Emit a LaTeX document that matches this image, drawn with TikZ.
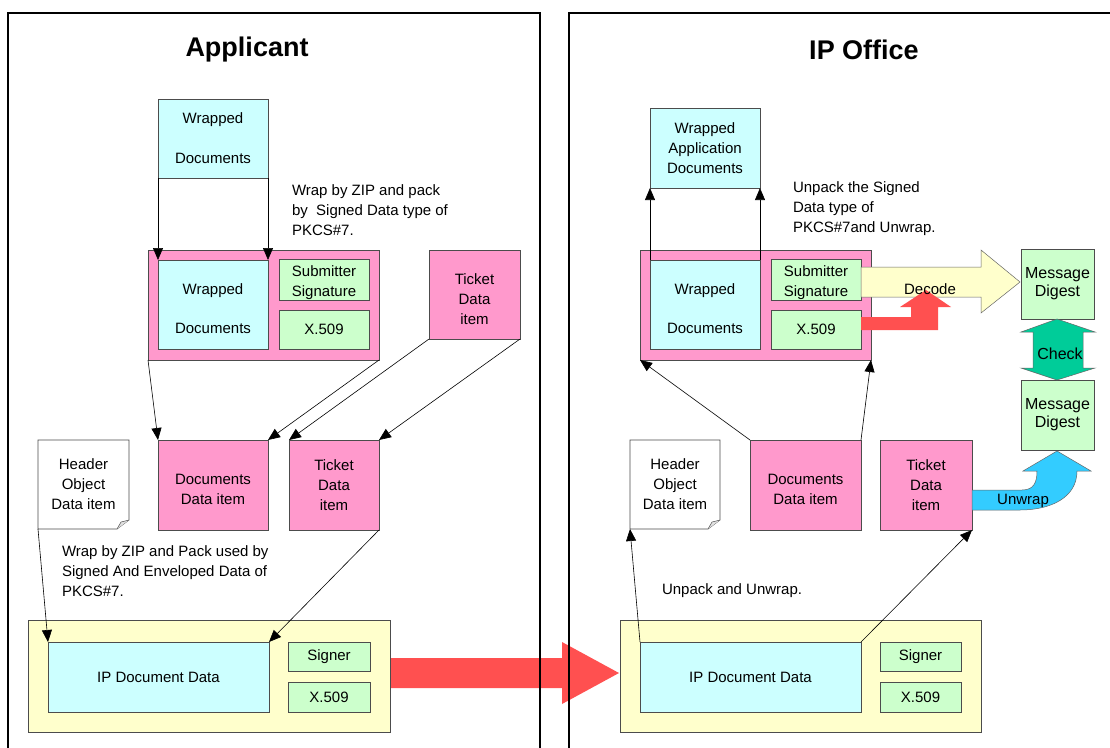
\documentclass[tikz,border=0pt]{standalone}
\usepackage{fontspec}
\setmainfont{Liberation Sans}
\usetikzlibrary{arrows.meta,calc}
\definecolor{DocCyan}{HTML}{CCFFFF}
\definecolor{ItemPink}{HTML}{FF99CC}
\definecolor{CertGreen}{HTML}{CCFFCC}
\definecolor{EnvYellow}{HTML}{FFFFCC}
\definecolor{SendRed}{HTML}{FF5050}
\definecolor{CheckGreen}{HTML}{00CC99}
\definecolor{UnwrapBlue}{HTML}{33CCFF}
\newcommand{\boxfont}{\fontsize{15}{20}\selectfont}
\newcommand{\digestfont}{\fontsize{16}{18}\selectfont}
\newcommand{\titlefont}{\fontsize{27}{32}\selectfont\bfseries}

\begin{document}
\begin{tikzpicture}[x=1pt,y=-1pt,
  every node/.style={inner sep=0pt,outer sep=0pt,align=center,font=\boxfont},
  item/.style 2 args={draw=black!70,line width=0.6pt,minimum width=#1,minimum height=#2},
  doc/.style 2 args={item={#1}{#2},fill=DocCyan},
  pack/.style 2 args={item={#1}{#2},fill=ItemPink},
  cert/.style 2 args={item={#1}{#2},fill=CertGreen},
  env/.style 2 args={item={#1}{#2},fill=EnvYellow},
  panel/.style={draw=black,line width=1.4pt},
  arr/.style={-{Triangle[length=12pt,width=10pt]},line width=0.6pt},
  blk/.style={draw=black!60,line width=0.5pt}]
  \useasboundingbox (0,0) rectangle (1110,747);
  \fill[white] (0,0) rectangle (1110,747);

  % sending arrow, under the panel frames
  \fill[SendRed] (390,658) -- (562,658) -- (562,642) -- (619,673) -- (562,704) -- (562,688) -- (390,688) -- cycle;

  \draw[panel] (8,13) rectangle (540,760);
  \draw[panel] (569,13) rectangle (1125,760);
  \node[font=\titlefont] (ttlL) at (247,50) {Applicant};
  \node[font=\titlefont] (ttlR) at (864,50) {IP Office};

  % Applicant side
  \node[doc={110}{79}] (wdL) at (213,138.5) {Wrapped\\[20pt]Documents};
  \node[pack={231}{110}] (sdL) at (263.5,305) {};
  \node[doc={110}{89}] (wdinL) at (213,304.5) {\mbox{}\\[-1pt]Wrapped\\[19pt]Documents};
  \node[cert={90}{39}] (sigL) at (324,279.5) {\mbox{}\\[-2pt]Submitter\\Signature};
  \node[cert={90}{39}] (xcL) at (324,329.5) {X.509};
  \node[pack={91}{89}] (tkL) at (474.5,294.5) {\mbox{}\\[1pt]Ticket\\Data\\item};
  \node[minimum width=91,minimum height=89] (hdL) at (83.5,484.5) {Header\\Object\\Data item};
  \node[pack={110}{90}] (ddL) at (213,485) {\mbox{}\\Documents\\Data item};
  \node[pack={90}{90}] (tdL) at (334,485) {Ticket\\Data\\item};
  \node[env={362}{112}] (envL) at (209,676) {};
  \node[doc={221}{70}] (ipL) at (158.5,677) {IP Document Data};
  \node[cert={82}{29}] (sgL) at (329,656.5) {Signer};
  \node[cert={82}{30}] (xbL) at (329,697) {X.509};
  \node[anchor=west,align=left] (txL1) at (292,210) {Wrap by ZIP and pack\\by\ \ Signed Data type of\\PKCS\#7.};
  \node[anchor=west,align=left] (txL2) at (62,571) {Wrap by ZIP and Pack used by\\Signed And Enveloped Data of\\PKCS\#7.};

  % IP Office side
  \node[doc={110}{80}] (wdR) at (705,148) {Wrapped\\Application\\Documents};
  \node[pack={231}{110}] (sdR) at (755.5,305) {};
  \node[doc={110}{89}] (wdinR) at (705,304.5) {\mbox{}\\[-1pt]Wrapped\\[19pt]Documents};
  \node[cert={90}{39}] (sigR) at (816,279.5) {\mbox{}\\[-2pt]Submitter\\Signature};
  \node[cert={90}{39}] (xcR) at (816,329.5) {X.509};
  \node[cert={73}{70},font=\digestfont] (mdT) at (1057.5,284) {Message\\Digest};
  \node[cert={73}{70},font=\digestfont] (mdB) at (1057.5,415) {Message\\Digest};
  \node[minimum width=90,minimum height=89] (hdR) at (675,484.5) {Header\\Object\\Data item};
  \node[pack={111}{90}] (ddR) at (805.5,485) {\mbox{}\\Documents\\Data item};
  \node[pack={92}{90}] (tdR) at (926,485) {Ticket\\Data\\item};
  \node[env={361}{112}] (envR) at (800.5,676) {};
  \node[doc={221}{70}] (ipR) at (750.5,677) {IP Document Data};
  \node[cert={81}{29}] (sgR) at (920.5,656.5) {Signer};
  \node[cert={81}{30}] (xbR) at (920.5,697) {X.509};
  \node[anchor=west,align=left] (txR1) at (793,209) {Unpack the Signed\\Data type of\\PKCS\#7and Unwrap.};
  \node[anchor=west,align=left] (txR2) at (662,591) {Unpack and Unwrap.};

  % header items drawn as folded notes
  \foreach \n in {hdL,hdR}{
    \draw[draw=black!70,line width=0.6pt] (\n.north west) -- (\n.north east) -- ($(\n.south east)+(0,-9)$) -- ($(\n.south east)+(-12,0)$) -- (\n.south west) -- cycle;
    \filldraw[fill=black!12,draw=black!70,line width=0.5pt] ($(\n.south east)+(-12,0)$) -- ($(\n.south east)+(-8,-7)$) -- ($(\n.south east)+(0,-9)$);
  }

  % packing
  \draw[arr] (wdL.south west) -- (wdinL.north west);
  \draw[arr] (wdL.south east) -- (wdinL.north east);
  \draw[arr] (sdL.south west) -- (ddL.north west);
  \draw[arr] (sdL.south east) -- (ddL.north east);
  \draw[arr] (tkL.south west) -- (tdL.north west);
  \draw[arr] (tkL.south east) -- (tdL.north east);
  \draw[arr] (hdL.south west) -- (ipL.north west);
  \draw[arr] (tdL.south east) -- (ipL.north east);

  % unpacking
  \draw[arr] (wdinR.north west) -- (wdR.south west);
  \draw[arr] (wdinR.north east) -- (wdR.south east);
  \draw[arr] (ddR.north west) -- (sdR.south west);
  \draw[arr] (ddR.north east) -- (sdR.south east);
  \draw[arr] (ipR.north west) -- (hdR.south west);
  \draw[arr] (ipR.north east) -- (tdR.south east);

  % verification
  \filldraw[blk,fill=EnvYellow] (861,267) -- (981,267) -- (981,250) -- (1020,282) -- (981,313) -- (981,297) -- (861,297) -- cycle;
  \fill[SendRed] (861,317) -- (911,317) -- (911,307) -- (900,307) -- (926,290) -- (951,307) -- (938,307) -- (938,330) -- (861,330) -- cycle;
  \filldraw[blk,fill=CheckGreen] (1057,319) -- (1095,332) -- (1083,332) -- (1083,368) -- (1095,368) -- (1057,380) -- (1021,368) -- (1033,368) -- (1033,332) -- (1021,332) -- cycle;
  \filldraw[blk,fill=UnwrapBlue] (972,490) -- (1022,490) .. controls (1034,490) and (1037,482) .. (1037,471) -- (1023,471) -- (1057,451) -- (1091,471) -- (1077,471) .. controls (1077,498) and (1050,510) .. (1020,510) -- (972,510) -- cycle;
  \node (dec) at (930,289) {Decode};
  \node[font=\digestfont] (chk) at (1060,354) {Check};
  \node (unw) at (1023,501) {Unwrap};
\end{tikzpicture}
\end{document}
